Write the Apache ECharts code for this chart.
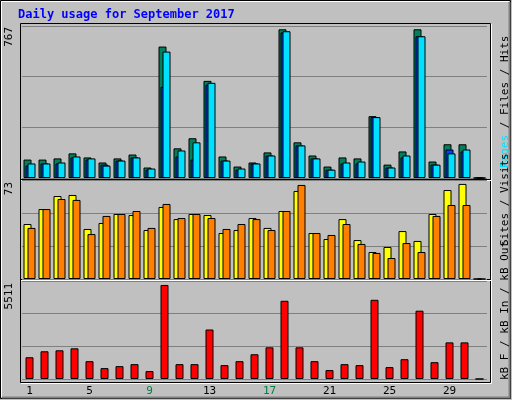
<!DOCTYPE html>
<html><head><meta charset="utf-8">
<script src="https://cdn.jsdelivr.net/npm/echarts@6/dist/echarts.min.js"></script>
<style>html,body{margin:0;padding:0;background:#c0c0c0}#c{width:512px;height:400px}</style>
</head><body><div id="c"></div>
<script>
const days = Array.from({length:31},(_,i)=>String(i+1));
const weekend = ['2','3','9','10','16','17','23','24','30','31'];
const hits  = [95,95,101,127,106,80,101,121,54,678,153,205,501,111,59,80,132,767,184,116,59,106,101,319,69,137,767,85,174,174,0];
const pages = [64,75,75,106,95,69,90,106,43,470,111,95,481,90,43,75,116,751,168,101,43,75,75,314,54,106,731,69,147,137,0];
const files = [75,75,80,111,101,64,90,106,49,652,142,184,491,90,49,75,116,757,168,101,43,80,85,314,54,116,731,69,127,147,0];
const visits = [42.2,53.7,63.7,64.5,38.4,43,49.9,49.1,37.6,55.3,46,49.9,49.1,35.3,37.6,46.8,39.2,52.2,67.6,35.3,30.7,46,29.9,20.7,24.6,36.8,29.2,49.9,68.3,73,0];
const sites = [39.2,53.7,61.4,60.7,34.5,48.4,49.9,52.2,39.2,57.6,46.8,49.9,46.8,38.4,42.2,46,37.6,52.2,72.2,35.3,33.8,42.2,26.9,20,16.1,27.6,20.7,48.4,56.8,56.8,0];
const kbF = [1275,1624,1682,1798,1044,638,754,870,464,5511,870,870,2900,812,1044,1450,1856,4583,1856,1044,522,870,812,4641,696,1160,4003,986,2146,2146,0];
const maxes = [767,73,5511];

const mono = '"DejaVu Sans Mono", monospace';
const grids = [
  {left:22,width:465,top:26,height:152},
  {left:22,width:465,top:180,height:99},
  {left:22,width:465,top:281,height:98}
];
const axMax = [784,76,5743];
function yAx(i){return {gridIndex:i,type:'value',min:0,max:axMax[i],interval:axMax[i]/3,
  axisLabel:{show:false},axisLine:{show:false},axisTick:{show:false},
  splitLine:{show:true,lineStyle:{color:'#808080',width:1}}};}
function xAx(i){return {gridIndex:i,type:'category',data:days,
  axisLine:{show:false},axisTick:{show:false},
  axisLabel:{show:i===2,fontFamily:mono,fontSize:11,margin:7,
    formatter:v=>weekend.includes(v)?'{g|'+v+'}':'{k|'+v+'}',
    rich:{g:{color:'#008040',fontFamily:mono,fontSize:11},k:{color:'#000',fontFamily:mono,fontSize:11}}}};}
const bs = {borderColor:'#000',borderWidth:1};
function bar(name,data,color,i,gap){return {name,type:'bar',data,xAxisIndex:i,yAxisIndex:i,barWidth:8,barGap:gap,
  itemStyle:Object.assign({color},bs),silent:true,animation:false};}

function rlabel(y,parts){
  return {type:'text',x:505,y:y,rotation:Math.PI/2,
    style:{text:parts.map(p=>'{'+p[1]+'|'+p[0]+'}').join(''),fontFamily:mono,fontSize:11,
      textAlign:'left',textVerticalAlign:'middle',
      rich:{c:{fill:'#00e0ff',color:'#00e0ff',fontFamily:mono,fontSize:11},b:{color:'#0040ff',fontFamily:mono,fontSize:11},
        g:{color:'#00805c',fontFamily:mono,fontSize:11},k:{color:'#000',fontFamily:mono,fontSize:11},
        y:{color:'#e8e800',fontFamily:mono,fontSize:11},o:{color:'#ff8000',fontFamily:mono,fontSize:11},
        r:{color:'#ff0000',fontFamily:mono,fontSize:11},lb:{color:'#0080ff',fontFamily:mono,fontSize:11},
        lg:{color:'#00c000',fontFamily:mono,fontSize:11}}}};
}
function ylab(y,t){return {type:'text',x:9,y:y,rotation:Math.PI/2,
  style:{text:t,fontFamily:mono,fontSize:11,fill:'#000',textAlign:'right',textVerticalAlign:'middle'}};}

const chart = echarts.init(document.getElementById('c'));
chart.setOption({
  animation:false,
  backgroundColor:'#c0c0c0',
  grid:grids.map(g=>Object.assign({show:true,backgroundColor:'#c0c0c0',borderColor:'#000',borderWidth:0},g)),
  xAxis:[0,1,2].map(xAx),
  yAxis:[0,1,2].map(yAx),
  series:[
    bar('Hits',hits,'#00805c',0,'-75%'),
    bar('Pages',pages,'#0040ff',0,'-75%'),
    bar('Files',files,'#00e0ff',0,'-75%'),
    bar('Visits',visits,'#ffff00',1,'-50%'),
    bar('Sites',sites,'#ff8000',1,'-50%'),
    bar('kB F',kbF,'#ff0000',2,'0%')
  ],
  graphic:[
    {type:'rect',shape:{x:0.5,y:0.5,width:510,height:398},style:{fill:'none',stroke:'#000',lineWidth:1},z:-1},
    {type:'polyline',shape:{points:[[1.5,397],[1.5,1.5],[509,1.5]]},style:{stroke:'#fff',lineWidth:1}},
    {type:'polyline',shape:{points:[[509.5,2],[509.5,397.5],[2,397.5]]},style:{stroke:'#808080',lineWidth:2}},
    {type:'rect',shape:{x:20.5,y:23.5,width:470,height:359},style:{fill:'none',stroke:'#000',lineWidth:1}},
    {type:'polyline',shape:{points:[[21,383.5],[491.5,383.5],[491.5,24]]},style:{stroke:'#fff',lineWidth:1}},
    {type:'line',shape:{x1:21,y1:179.5,x2:491,y2:179.5},style:{stroke:'#000',lineWidth:1}},
    {type:'line',shape:{x1:21,y1:180.5,x2:491,y2:180.5},style:{stroke:'#fff',lineWidth:1}},
    {type:'line',shape:{x1:21,y1:279.5,x2:491,y2:279.5},style:{stroke:'#000',lineWidth:1}},
    {type:'line',shape:{x1:21,y1:280.5,x2:491,y2:280.5},style:{stroke:'#fff',lineWidth:1}},
    {type:'text',x:18,y:15,style:{text:'Daily usage for September 2017',fontFamily:mono,fontSize:12,fontWeight:'bold',fill:'#0000ff',textVerticalAlign:'middle'}},
    ylab(27,String(maxes[0])),ylab(182,String(maxes[1])),ylab(283,String(maxes[2])),
    rlabel(168,[['Pages','c'],[' / ','k'],['Files','b'],[' / ','k'],['Hits','g']]),
    rlabel(246,[['Sites','o'],[' / ','k'],['Visits','y']]),
    rlabel(380,[['kB F','r'],[' / ','k'],['kB In','lb'],[' / ','k'],['kB Out','lg']])
  ]
});
</script></body></html>
